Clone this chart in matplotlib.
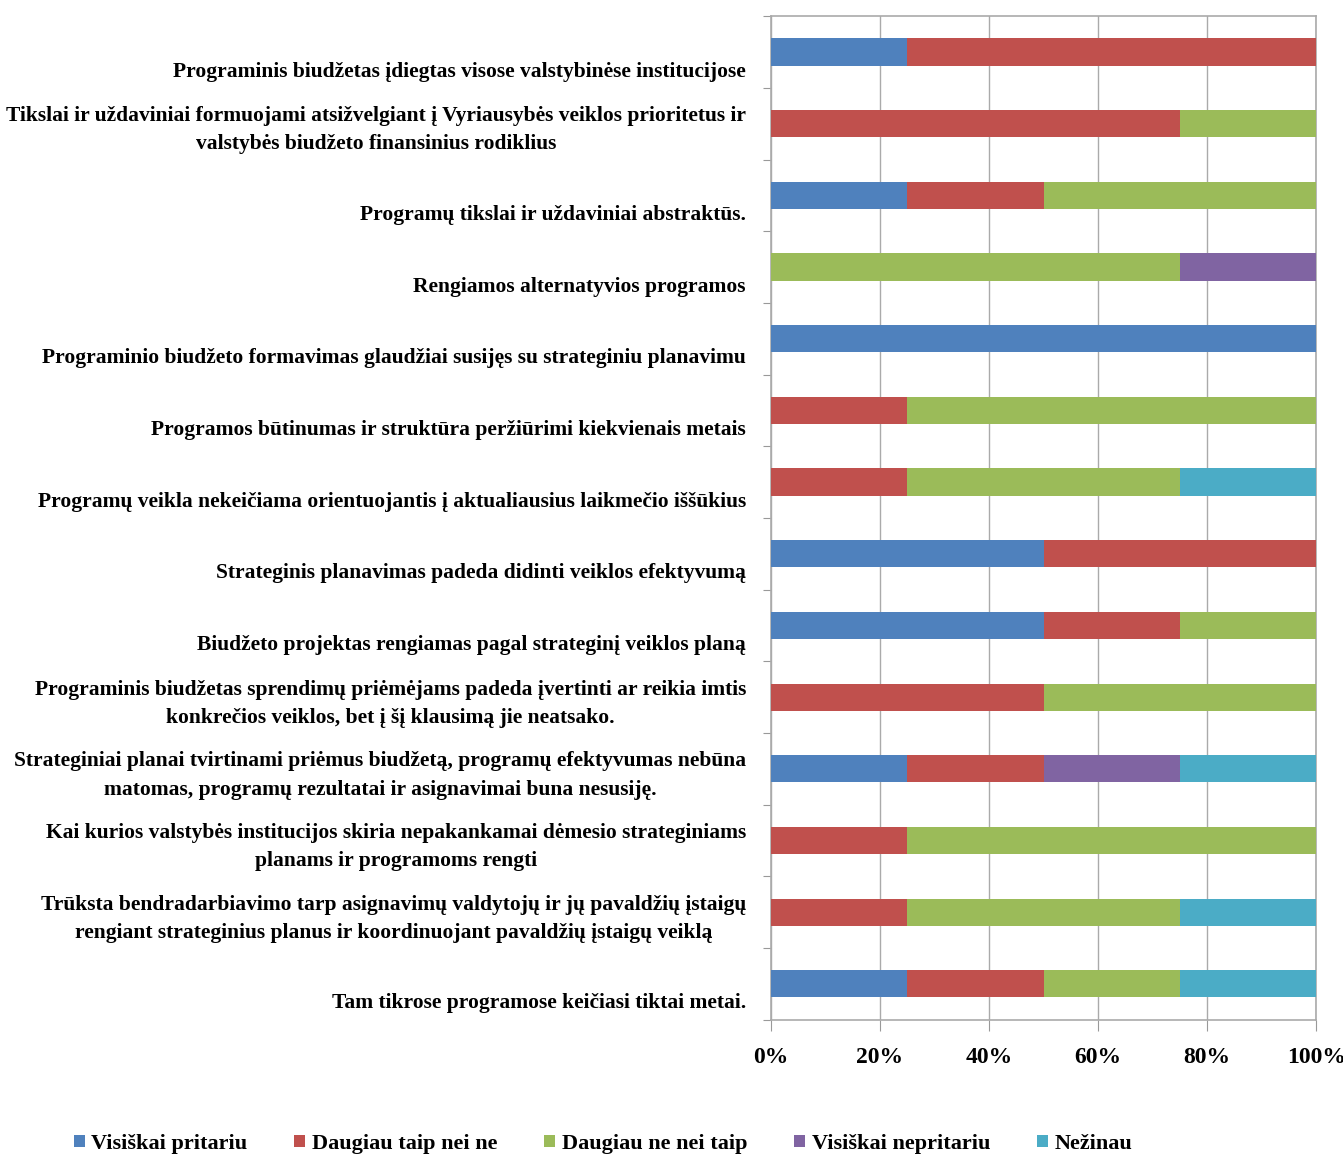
import matplotlib
matplotlib.use("Agg")
import matplotlib.pyplot as plt
import matplotlib.transforms as mtransforms
import numpy as np

# survey statements, top to bottom
labels = [
    "Programinis biudžetas įdiegtas visose valstybinėse institucijose",
    "Tikslai ir uždaviniai formuojami atsižvelgiant į Vyriausybės veiklos prioritetus ir\nvalstybės biudžeto finansinius rodiklius",
    "Programų tikslai ir uždaviniai abstraktūs.",
    "Rengiamos alternatyvios programos",
    "Programinio biudžeto formavimas glaudžiai susijęs su strateginiu planavimu",
    "Programos būtinumas ir struktūra peržiūrimi kiekvienais metais",
    "Programų veikla nekeičiama orientuojantis į aktualiausius laikmečio iššūkius",
    "Strateginis planavimas padeda didinti veiklos efektyvumą",
    "Biudžeto projektas rengiamas pagal strateginį veiklos planą",
    "Programinis biudžetas sprendimų priėmėjams padeda įvertinti ar reikia imtis\nkonkrečios veiklos, bet į šį klausimą jie neatsako.",
    "Strateginiai planai tvirtinami priėmus biudžetą, programų efektyvumas nebūna\nmatomas, programų rezultatai ir asignavimai buna nesusiję.",
    "Kai kurios valstybės institucijos skiria nepakankamai dėmesio strateginiams\nplanams ir programoms rengti",
    "Trūksta bendradarbiavimo tarp asignavimų valdytojų ir jų pavaldžių įstaigų\nrengiant strateginius planus ir koordinuojant pavaldžių įstaigų veiklą",
    "Tam tikrose programose keičiasi tiktai metai.",
]

series_names = ["Visiškai pritariu", "Daugiau taip nei ne", "Daugiau ne nei taip",
                "Visiškai nepritariu", "Nežinau"]
colors = ["#4F81BD", "#C0504D", "#9BBB59", "#8064A2", "#4BACC6"]

# shares in %
visiskai_pritariu   = [25, 0, 25, 0, 100, 0, 0, 50, 50, 0, 25, 0, 0, 25]
daugiau_taip        = [75, 75, 25, 0, 0, 25, 25, 50, 25, 50, 25, 25, 25, 25]
daugiau_ne          = [0, 25, 50, 75, 0, 75, 50, 0, 25, 50, 0, 75, 50, 25]
visiskai_nepritariu = [0, 0, 0, 25, 0, 0, 0, 0, 0, 0, 25, 0, 0, 0]
nezinau             = [0, 0, 0, 0, 0, 0, 25, 0, 0, 0, 25, 0, 25, 25]

values = np.array([visiskai_pritariu, daugiau_taip, daugiau_ne,
                   visiskai_nepritariu, nezinau], dtype=float)

plt.rcParams['font.family'] = ['Liberation Serif', 'DejaVu Serif']
plt.rcParams['font.weight'] = 'bold'

fig = plt.figure(figsize=(13.43, 11.6), dpi=100)
ax = fig.add_axes([0.574, 0.121, 0.406, 0.865])

y = np.arange(len(labels))
left = np.zeros(len(labels))
for name, col, vals in zip(series_names, colors, values):
    ax.barh(y, vals, left=left, height=0.38, color=col, label=name, zorder=3)
    left += vals

ax.set_xlim(0, 100)
ax.set_ylim(len(labels) - 0.5, -0.5)
ax.set_xticks(np.arange(0, 101, 20))
ax.set_xticklabels([f"{v}%" for v in range(0, 101, 20)], fontsize=17, fontweight='bold')
ax.tick_params(axis='x', length=8, color='#999999', pad=12)
ax.xaxis.grid(True, color='#AAAAAA', linewidth=1, zorder=0)

# category boundaries get tick marks, labels sit at centres
ax.set_yticks(np.arange(len(labels) + 1) - 0.5)
ax.set_yticklabels([])
ax.tick_params(axis='y', which='major', length=6, color='#999999')
ax.set_yticks(y, minor=True)
ax.set_yticklabels(labels, minor=True, fontsize=15.5, fontweight='bold',
                   multialignment='center', linespacing=1.55)
ax.tick_params(axis='y', which='minor', length=0, pad=18)

# single-line labels sit a half line lower, as in the source
shift = mtransforms.ScaledTranslation(0, -17 / 100, fig.dpi_scale_trans)
for lab, t in zip(labels, ax.get_yticklabels(minor=True)):
    if "\n" not in lab:
        t.set_transform(t.get_transform() + shift)

for s in ax.spines.values():
    s.set_color('#AAAAAA')
    s.set_linewidth(1.2)

fig.legend(loc='lower left', bbox_to_anchor=(0.04, -0.012), ncol=5, frameon=False,
           fontsize=16, handlelength=0.5, handleheight=0.5, handletextpad=0.3,
           columnspacing=2.1)

fig.savefig("out.png", dpi=100)
